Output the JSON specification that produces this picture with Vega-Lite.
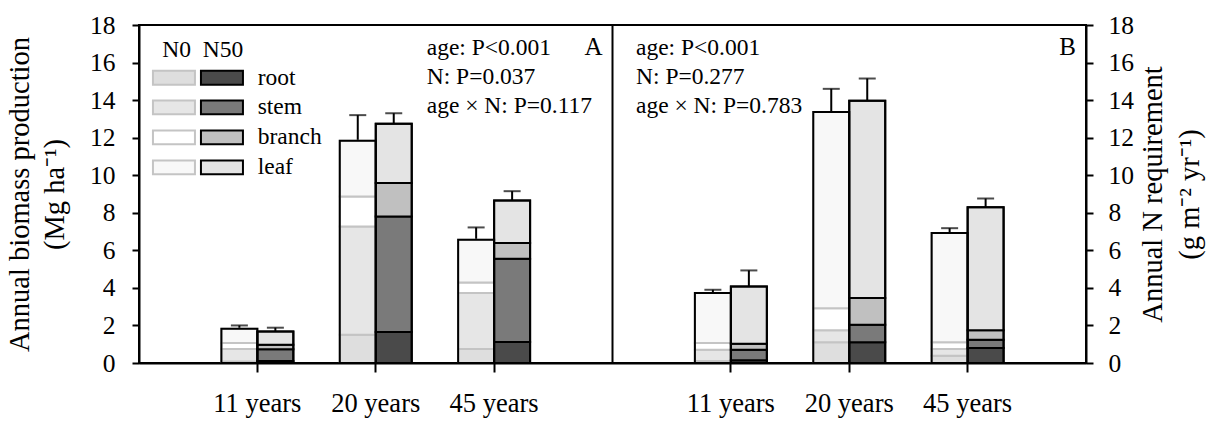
{
  "$schema": "https://vega.github.io/schema/vega-lite/v6.json",
  "width": 947,
  "height": 338,
  "autosize": {"type": "none"},
  "padding": {"left": 139, "top": 25, "right": 122, "bottom": 58},
  "background": "white",
  "datasets": {
    "parts": [
      {"group": "A 11 years", "N": "N0", "part": "root", "series": "N0 root", "rank": 1, "value": 0.08},
      {"group": "A 11 years", "N": "N0", "part": "stem", "series": "N0 stem", "rank": 2, "value": 0.66},
      {"group": "A 11 years", "N": "N0", "part": "branch", "series": "N0 branch", "rank": 3, "value": 0.32},
      {"group": "A 11 years", "N": "N0", "part": "leaf", "series": "N0 leaf", "rank": 4, "value": 0.77},
      {"group": "A 11 years", "N": "N50", "part": "root", "series": "N50 root", "rank": 1, "value": 0.10},
      {"group": "A 11 years", "N": "N50", "part": "stem", "series": "N50 stem", "rank": 2, "value": 0.63},
      {"group": "A 11 years", "N": "N50", "part": "branch", "series": "N50 branch", "rank": 3, "value": 0.24},
      {"group": "A 11 years", "N": "N50", "part": "leaf", "series": "N50 leaf", "rank": 4, "value": 0.71},
      {"group": "A 20 years", "N": "N0", "part": "root", "series": "N0 root", "rank": 1, "value": 1.51},
      {"group": "A 20 years", "N": "N0", "part": "stem", "series": "N0 stem", "rank": 2, "value": 5.76},
      {"group": "A 20 years", "N": "N0", "part": "branch", "series": "N0 branch", "rank": 3, "value": 1.60},
      {"group": "A 20 years", "N": "N0", "part": "leaf", "series": "N0 leaf", "rank": 4, "value": 2.96},
      {"group": "A 20 years", "N": "N50", "part": "root", "series": "N50 root", "rank": 1, "value": 1.65},
      {"group": "A 20 years", "N": "N50", "part": "stem", "series": "N50 stem", "rank": 2, "value": 6.15},
      {"group": "A 20 years", "N": "N50", "part": "branch", "series": "N50 branch", "rank": 3, "value": 1.78},
      {"group": "A 20 years", "N": "N50", "part": "leaf", "series": "N50 leaf", "rank": 4, "value": 3.16},
      {"group": "A 45 years", "N": "N0", "part": "root", "series": "N0 root", "rank": 1, "value": 0.75},
      {"group": "A 45 years", "N": "N0", "part": "stem", "series": "N0 stem", "rank": 2, "value": 2.98},
      {"group": "A 45 years", "N": "N0", "part": "branch", "series": "N0 branch", "rank": 3, "value": 0.56},
      {"group": "A 45 years", "N": "N0", "part": "leaf", "series": "N0 leaf", "rank": 4, "value": 2.27},
      {"group": "A 45 years", "N": "N50", "part": "root", "series": "N50 root", "rank": 1, "value": 1.12},
      {"group": "A 45 years", "N": "N50", "part": "stem", "series": "N50 stem", "rank": 2, "value": 4.43},
      {"group": "A 45 years", "N": "N50", "part": "branch", "series": "N50 branch", "rank": 3, "value": 0.84},
      {"group": "A 45 years", "N": "N50", "part": "leaf", "series": "N50 leaf", "rank": 4, "value": 2.26},
      {"group": "B 11 years", "N": "N0", "part": "root", "series": "N0 root", "rank": 1, "value": 0.10},
      {"group": "B 11 years", "N": "N0", "part": "stem", "series": "N0 stem", "rank": 2, "value": 0.61},
      {"group": "B 11 years", "N": "N0", "part": "branch", "series": "N0 branch", "rank": 3, "value": 0.35},
      {"group": "B 11 years", "N": "N0", "part": "leaf", "series": "N0 leaf", "rank": 4, "value": 2.67},
      {"group": "B 11 years", "N": "N50", "part": "root", "series": "N50 root", "rank": 1, "value": 0.15},
      {"group": "B 11 years", "N": "N50", "part": "stem", "series": "N50 stem", "rank": 2, "value": 0.56},
      {"group": "B 11 years", "N": "N50", "part": "branch", "series": "N50 branch", "rank": 3, "value": 0.32},
      {"group": "B 11 years", "N": "N50", "part": "leaf", "series": "N50 leaf", "rank": 4, "value": 3.05},
      {"group": "B 20 years", "N": "N0", "part": "root", "series": "N0 root", "rank": 1, "value": 1.10},
      {"group": "B 20 years", "N": "N0", "part": "stem", "series": "N0 stem", "rank": 2, "value": 0.64},
      {"group": "B 20 years", "N": "N0", "part": "branch", "series": "N0 branch", "rank": 3, "value": 1.17},
      {"group": "B 20 years", "N": "N0", "part": "leaf", "series": "N0 leaf", "rank": 4, "value": 10.46},
      {"group": "B 20 years", "N": "N50", "part": "root", "series": "N50 root", "rank": 1, "value": 1.10},
      {"group": "B 20 years", "N": "N50", "part": "stem", "series": "N50 stem", "rank": 2, "value": 0.94},
      {"group": "B 20 years", "N": "N50", "part": "branch", "series": "N50 branch", "rank": 3, "value": 1.42},
      {"group": "B 20 years", "N": "N50", "part": "leaf", "series": "N50 leaf", "rank": 4, "value": 10.50},
      {"group": "B 45 years", "N": "N0", "part": "root", "series": "N0 root", "rank": 1, "value": 0.39},
      {"group": "B 45 years", "N": "N0", "part": "stem", "series": "N0 stem", "rank": 2, "value": 0.36},
      {"group": "B 45 years", "N": "N0", "part": "branch", "series": "N0 branch", "rank": 3, "value": 0.35},
      {"group": "B 45 years", "N": "N0", "part": "leaf", "series": "N0 leaf", "rank": 4, "value": 5.82},
      {"group": "B 45 years", "N": "N50", "part": "root", "series": "N50 root", "rank": 1, "value": 0.80},
      {"group": "B 45 years", "N": "N50", "part": "stem", "series": "N50 stem", "rank": 2, "value": 0.44},
      {"group": "B 45 years", "N": "N50", "part": "branch", "series": "N50 branch", "rank": 3, "value": 0.50},
      {"group": "B 45 years", "N": "N50", "part": "leaf", "series": "N50 leaf", "rank": 4, "value": 6.56}
    ],
    "errors": [
      {"group": "A 11 years", "N": "N0", "upper": 2.0},
      {"group": "A 11 years", "N": "N50", "upper": 1.88},
      {"group": "A 20 years", "N": "N0", "upper": 13.2},
      {"group": "A 20 years", "N": "N50", "upper": 13.3},
      {"group": "A 45 years", "N": "N0", "upper": 7.22},
      {"group": "A 45 years", "N": "N50", "upper": 9.15},
      {"group": "B 11 years", "N": "N0", "upper": 3.9},
      {"group": "B 11 years", "N": "N50", "upper": 4.93},
      {"group": "B 20 years", "N": "N0", "upper": 14.6},
      {"group": "B 20 years", "N": "N50", "upper": 15.15},
      {"group": "B 45 years", "N": "N0", "upper": 7.18},
      {"group": "B 45 years", "N": "N50", "upper": 8.76}
    ]
  },
  "config": {
    "view": {"stroke": "black", "strokeWidth": 2},
    "font": "Liberation Serif",
    "axis": {
      "grid": false,
      "zindex": 1,
      "domainColor": "black",
      "domainWidth": 2,
      "tickColor": "black",
      "tickWidth": 2,
      "tickOpacity": 1,
      "labelColor": "black",
      "titleColor": "black",
      "labelFont": "Liberation Serif",
      "titleFont": "Liberation Serif",
      "titleFontWeight": "normal"
    }
  },
  "resolve": {"axis": {"x": "shared", "y": "independent"}},
  "layer": [
    {
      "data": {"name": "errors"},
      "mark": {"type": "rule", "color": "black", "strokeWidth": 2},
      "encoding": {
        "x": {
          "field": "group", "type": "nominal",
          "scale": {"domain": ["A 11 years", "A 20 years", "A 45 years", "gap", "B 11 years", "B 20 years", "B 45 years"], "paddingInner": 0.392, "paddingOuter": 0.696},
          "axis": {
            "orient": "bottom", "title": null, "zindex": 1,
            "values": ["A 11 years", "A 20 years", "A 45 years", "B 11 years", "B 20 years", "B 45 years"],
            "labelExpr": "slice(datum.label, 2)",
            "labelFont": "Liberation Serif", "labelFontSize": 26.5, "labelPadding": 18, "labelAngle": 0,
            "ticks": true, "tickSize": 9, "tickColor": "black", "tickWidth": 2
          }
        },
        "xOffset": {"field": "N", "type": "nominal", "scale": {"domain": ["N0", "N50"], "paddingInner": 0, "paddingOuter": 0}},
        "y": {
          "field": "upper", "type": "quantitative",
          "scale": {"domain": [0, 18], "nice": false},
          "axis": {
            "orient": "left", "zindex": 1,
            "values": [0, 2, 4, 6, 8, 10, 12, 14, 16, 18],
            "title": ["Annual biomass production", "(Mg ha⁻¹)"],
            "titleFont": "Liberation Serif",
            "labelFont": "Liberation Serif",
            "titleFontSize": 28.5,
            "titleLineHeight": 35,
            "titlePadding": 20,
            "labelFontSize": 25.5,
            "labelPadding": 17,
            "ticks": true,
            "tickSize": 7,
            "tickColor": "black",
            "tickWidth": 2
          }
        },
        "y2": {"datum": 0}
      }
    },
    {
      "data": {"name": "parts"},
      "mark": {"type": "bar", "strokeWidth": 2, "opacity": 1},
      "encoding": {
        "x": {
          "field": "group", "type": "nominal",
          "scale": {"domain": ["A 11 years", "A 20 years", "A 45 years", "gap", "B 11 years", "B 20 years", "B 45 years"], "paddingInner": 0.392, "paddingOuter": 0.696},
          "axis": {
            "orient": "bottom", "title": null, "zindex": 1,
            "values": ["A 11 years", "A 20 years", "A 45 years", "B 11 years", "B 20 years", "B 45 years"],
            "labelExpr": "slice(datum.label, 2)",
            "labelFont": "Liberation Serif", "labelFontSize": 26.5, "labelPadding": 18, "labelAngle": 0,
            "ticks": true, "tickSize": 9, "tickColor": "black", "tickWidth": 2
          }
        },
        "xOffset": {"field": "N", "type": "nominal", "scale": {"domain": ["N0", "N50"], "paddingInner": 0, "paddingOuter": 0}},
        "y": {
          "field": "value", "type": "quantitative", "stack": "zero",
          "scale": {"domain": [0, 18], "nice": false},
          "axis": null
        },
        "fill": {
          "field": "series", "type": "nominal",
          "scale": {
            "domain": ["N0 root", "N0 stem", "N0 branch", "N0 leaf", "N50 root", "N50 stem", "N50 branch", "N50 leaf"],
            "range": ["#dedede", "#e6e6e6", "#ffffff", "#f8f8f8", "#4a4a4a", "#7a7a7a", "#c0c0c0", "#e4e4e4"]
          },
          "legend": {
            "title": "N0\u2002N50",
            "orient": "none", "legendX": 23.2, "legendY": 13.1,
            "columns": 2,
            "symbolType": "M-2,-0.66H2V0.66H-2Z", "symbolSize": 441, "symbolStrokeWidth": 2, "symbolOpacity": 1,
            "labelFont": "Liberation Serif", "labelFontSize": 23.5, "labelColor": "black", "labelOffset": 24, "labelLimit": 200,
            "columnPadding": -15, "rowPadding": 5,
            "titleFont": "Liberation Serif", "titleFontSize": 23.5, "titleFontWeight": "normal", "titleColor": "black", "titlePadding": 4,
            "padding": 0,
            "labelExpr": "indexof(datum.label, 'N50') == 0 ? slice(datum.label, 4) : ''"
          }
        },
        "stroke": {
          "field": "series", "type": "nominal",
          "scale": {
            "domain": ["N0 root", "N0 stem", "N0 branch", "N0 leaf", "N50 root", "N50 stem", "N50 branch", "N50 leaf"],
            "range": ["#c4c4c4", "#c4c4c4", "#c4c4c4", "#c4c4c4", "#000000", "#000000", "#000000", "#000000"]
          },
          "legend": {
            "title": "N0\u2002N50",
            "orient": "none", "legendX": 23.2, "legendY": 13.1,
            "columns": 2,
            "symbolType": "M-2,-0.66H2V0.66H-2Z", "symbolSize": 441, "symbolStrokeWidth": 2, "symbolOpacity": 1,
            "labelFont": "Liberation Serif", "labelFontSize": 23.5, "labelColor": "black", "labelOffset": 24, "labelLimit": 200,
            "columnPadding": -15, "rowPadding": 5,
            "titleFont": "Liberation Serif", "titleFontSize": 23.5, "titleFontWeight": "normal", "titleColor": "black", "titlePadding": 4,
            "padding": 0,
            "labelExpr": "indexof(datum.label, 'N50') == 0 ? slice(datum.label, 4) : ''"
          }
        },
        "order": {"field": "rank", "type": "quantitative"}
      }
    },
    {
      "data": {"name": "parts"},
      "mark": {"type": "bar", "fill": "transparent", "stroke": "black", "strokeWidth": 2},
      "encoding": {
        "x": {
          "field": "group", "type": "nominal",
          "scale": {"domain": ["A 11 years", "A 20 years", "A 45 years", "gap", "B 11 years", "B 20 years", "B 45 years"], "paddingInner": 0.392, "paddingOuter": 0.696},
          "axis": {
            "orient": "bottom", "title": null, "zindex": 1,
            "values": ["A 11 years", "A 20 years", "A 45 years", "B 11 years", "B 20 years", "B 45 years"],
            "labelExpr": "slice(datum.label, 2)",
            "labelFont": "Liberation Serif", "labelFontSize": 26.5, "labelPadding": 18, "labelAngle": 0,
            "ticks": true, "tickSize": 9, "tickColor": "black", "tickWidth": 2
          }
        },
        "xOffset": {"field": "N", "type": "nominal", "scale": {"domain": ["N0", "N50"], "paddingInner": 0, "paddingOuter": 0}},
        "y": {
          "aggregate": "sum", "field": "value", "type": "quantitative",
          "scale": {"domain": [0, 18], "nice": false},
          "axis": {
            "orient": "right", "zindex": 1,
            "values": [0, 2, 4, 6, 8, 10, 12, 14, 16, 18],
            "title": ["Annual N requirement", "(g m⁻² yr⁻¹)"],
            "titleFont": "Liberation Serif",
            "labelFont": "Liberation Serif",
            "titleAngle": 270,
            "titleBaseline": "top",
            "titleAlign": "center",
            "titleX": 52,
            "titleY": 169,
            "titleFontSize": 28.5,
            "titleLineHeight": 37,
            "labelFontSize": 25.5,
            "labelPadding": 15,
            "ticks": true,
            "tickSize": 7,
            "tickColor": "black",
            "tickWidth": 2
          }
        }
      }
    },
    {
      "data": {"name": "errors"},
      "mark": {"type": "tick", "color": "black", "thickness": 2, "size": 17, "orient": "horizontal"},
      "encoding": {
        "x": {
          "field": "group", "type": "nominal",
          "scale": {"domain": ["A 11 years", "A 20 years", "A 45 years", "gap", "B 11 years", "B 20 years", "B 45 years"], "paddingInner": 0.392, "paddingOuter": 0.696},
          "axis": {
            "orient": "bottom", "title": null, "zindex": 1,
            "values": ["A 11 years", "A 20 years", "A 45 years", "B 11 years", "B 20 years", "B 45 years"],
            "labelExpr": "slice(datum.label, 2)",
            "labelFont": "Liberation Serif", "labelFontSize": 26.5, "labelPadding": 18, "labelAngle": 0,
            "ticks": true, "tickSize": 9, "tickColor": "black", "tickWidth": 2
          }
        },
        "xOffset": {"field": "N", "type": "nominal", "scale": {"domain": ["N0", "N50"], "paddingInner": 0, "paddingOuter": 0}},
        "y": {"field": "upper", "type": "quantitative", "scale": {"domain": [0, 18], "nice": false}, "axis": null}
      }
    },
    {
      "data": {"values": [{}]},
      "mark": {"type": "rule", "color": "black", "strokeWidth": 2},
      "encoding": {
        "x": {"datum": "gap", "type": "nominal"}
      }
    },
    {
      "data": {"values": [{}]},
      "mark": {"type": "text", "text": ["age: P<0.001", "N: P=0.037", "age × N: P=0.117"], "align": "left", "baseline": "alphabetic", "dx": -67.4, "fontSize": 23.5, "lineHeight": 28.8, "font": "Liberation Serif", "color": "black"},
      "encoding": {
        "x": {"datum": "A 45 years", "type": "nominal"},
        "y": {"datum": 16.4, "type": "quantitative", "scale": {"domain": [0, 18], "nice": false}, "axis": null}
      }
    },
    {
      "data": {"values": [{}]},
      "mark": {"type": "text", "text": "A", "align": "right", "baseline": "alphabetic", "dx": -10, "fontSize": 25, "font": "Liberation Serif", "color": "black"},
      "encoding": {
        "x": {"datum": "gap", "type": "nominal"},
        "y": {"datum": 16.4, "type": "quantitative", "scale": {"domain": [0, 18], "nice": false}, "axis": null}
      }
    },
    {
      "data": {"values": [{}]},
      "mark": {"type": "text", "text": ["age: P<0.001", "N: P=0.277", "age × N: P=0.783"], "align": "left", "baseline": "alphabetic", "dx": 23.5, "fontSize": 23.5, "lineHeight": 28.8, "font": "Liberation Serif", "color": "black"},
      "encoding": {
        "x": {"datum": "gap", "type": "nominal"},
        "y": {"datum": 16.4, "type": "quantitative", "scale": {"domain": [0, 18], "nice": false}, "axis": null}
      }
    },
    {
      "data": {"values": [{}]},
      "mark": {"type": "text", "text": "B", "align": "right", "baseline": "alphabetic", "dx": 108.4, "fontSize": 25, "font": "Liberation Serif", "color": "black"},
      "encoding": {
        "x": {"datum": "B 45 years", "type": "nominal"},
        "y": {"datum": 16.4, "type": "quantitative", "scale": {"domain": [0, 18], "nice": false}, "axis": null}
      }
    }
  ]
}
